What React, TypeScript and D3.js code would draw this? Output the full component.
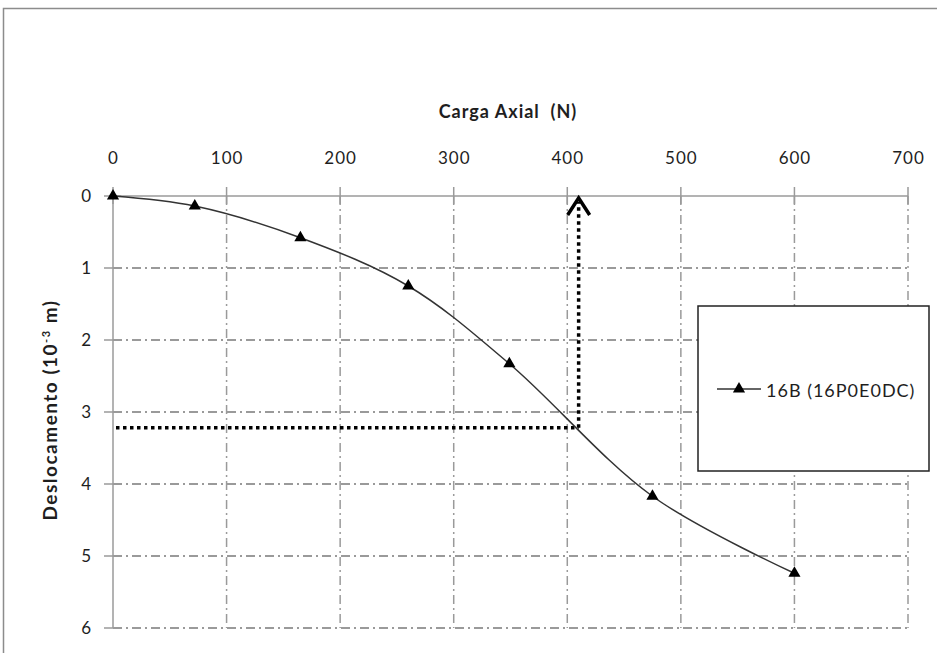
import React from 'react';
import * as d3 from 'd3';

// Carga axial (N) vs deslocamento (10^-3 m)
const loads = [0, 72, 165, 260, 349, 475, 600];
const displacements = [0, 0.14, 0.58, 1.25, 2.33, 4.17, 5.24];
const xTicks = [0, 100, 200, 300, 400, 500, 600, 700];
const yTicks = [0, 1, 2, 3, 4, 5, 6];
const seriesName = '16B (16P0E0DC)';
// marked point (dotted guide lines)
const marker = { load: 410, disp: 3.22 };

const W = 937;
const H = 653;
const font = 'Lato, "Open Sans", sans-serif';
const gridColor = '#9a9a9a';
const textColor = '#1e1e1e';

export default function App() {
  const x = d3.scaleLinear().domain([0, 700]).range([113, 908]);
  const y = d3.scaleLinear().domain([0, 6]).range([196, 628]);

  const pts: [number, number][] = loads.map((l, i) => [x(l), y(displacements[i])]);
  const line = d3.line().curve(d3.curveCatmullRom.alpha(0.5))(pts) || '';
  const tri = d3.symbol().type(d3.symbolTriangle).size(64)() || '';

  const mx = x(marker.load);
  const my = y(marker.disp);

  return (
    <svg width={W} height={H} style={{ position: 'absolute', left: 0, top: 0, background: '#fff' }}>
      {/* outer frame */}
      <rect x={3.5} y={8.5} width={W} height={H} fill="#fff" stroke="#8c8c8c" strokeWidth={1.5} />

      {/* vertical grid */}
      {xTicks.slice(1).map(t => (
        <line key={'vx' + t} x1={x(t)} x2={x(t)} y1={y(0)} y2={y(6)}
          stroke={gridColor} strokeWidth={1.5} strokeDasharray="9,4,2,4" />
      ))}
      {/* horizontal grid */}
      {yTicks.slice(1).map(t => (
        <line key={'hy' + t} x1={x(0)} x2={x(700)} y1={y(t)} y2={y(t)}
          stroke={gridColor} strokeWidth={2} strokeDasharray="9,4,2,4" />
      ))}

      {/* axes */}
      <line x1={x(0)} x2={x(700)} y1={y(0)} y2={y(0)} stroke={gridColor} strokeWidth={1.5} />
      <line x1={x(0)} x2={x(0)} y1={y(0)} y2={y(6)} stroke={gridColor} strokeWidth={1.5} />
      {xTicks.map(t => (
        <line key={'tx' + t} x1={x(t)} x2={x(t)} y1={y(0) - 9} y2={y(0) + 8} stroke={gridColor} strokeWidth={1.5} />
      ))}
      {yTicks.map(t => (
        <line key={'ty' + t} x1={x(0) - 9} x2={x(0) + 8} y1={y(t)} y2={y(t)} stroke={gridColor} strokeWidth={1.5} />
      ))}

      {/* tick labels */}
      {xTicks.map(t => (
        <text key={'lx' + t} x={x(t) + 0.5} y={164} textAnchor="middle" fontFamily={font} fontSize={17}
          letterSpacing={1} fill={textColor}>{t}</text>
      ))}
      {yTicks.map(t => (
        <text key={'ly' + t} x={92} y={y(t) + 6} textAnchor="end" fontFamily={font} fontSize={17}
          letterSpacing={1} fill={textColor}>{t}</text>
      ))}

      {/* titles */}
      <text x={508} y={118} textAnchor="middle" fontFamily={font} fontSize={18} fontWeight="bold"
        letterSpacing={1} fill={textColor} style={{ whiteSpace: 'pre' }}>
        {'Carga Axial  (N)'}
      </text>
      <text transform={`translate(57,410) rotate(-90)`} textAnchor="middle" fontFamily={font} fontSize={19}
        fontWeight="bold" letterSpacing={1.5} fill={textColor}>
        Deslocamento (10<tspan dy={-7} fontSize={11}>-3</tspan><tspan dy={7}> m)</tspan>
      </text>

      {/* dotted guide lines */}
      <line x1={x(0) + 3} x2={mx} y1={my} y2={my} stroke="#000" strokeWidth={3.5} strokeDasharray="3.5,3.5" />
      <line x1={mx} x2={mx} y1={my} y2={y(0) + 6} stroke="#000" strokeWidth={3.5} strokeDasharray="3.5,3.5" />
      <path d={`M${mx - 11},${y(0) + 19} L${mx},${y(0) + 2} L${mx + 11},${y(0) + 19}`} fill="none" stroke="#000"
        strokeWidth={3.5} strokeLinejoin="miter" />

      {/* series */}
      <path d={line} fill="none" stroke="#333" strokeWidth={1.5} />
      {pts.map((p, i) => (
        <path key={'m' + i} d={tri} transform={`translate(${p[0]},${p[1]})`} fill="#000" />
      ))}

      {/* legend */}
      <rect x={698} y={306} width={231} height={165} fill="#fff" stroke="#222" strokeWidth={1.5} />
      <line x1={717} x2={761} y1={389} y2={389} stroke="#333" strokeWidth={1.5} />
      <path d={tri} transform="translate(739,389)" fill="#000" />
      <text x={766} y={397} fontFamily={font} fontSize={18} letterSpacing={1} fill={textColor}>{seriesName}</text>
    </svg>
  );
}
